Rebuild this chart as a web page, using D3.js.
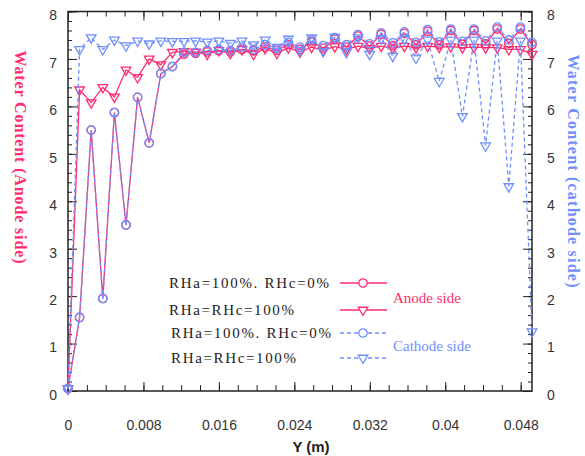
<!DOCTYPE html>
<html lang="en">
<head>
<meta charset="utf-8">
<title>Water content</title>
<script src="https://d3js.org/d3.v7.js"></script>
<style>
    body { margin: 0; background: #fff; }
    .tick text { font-family: "Liberation Sans", Arial, sans-serif; font-size: 14px; fill: #333; }
    .axis path, .axis line { stroke: #222; }
</style>
</head>
<body>
<svg width="585" height="456"></svg>
<script type="text/javascript">
    // positions along the channel (m)
    let xs = [0, 0.00123, 0.00246, 0.00369, 0.00492, 0.00615, 0.00738, 0.00861, 0.00984, 0.01107,
        0.0123, 0.01353, 0.01476, 0.01599, 0.01722, 0.01845, 0.01968, 0.02091, 0.02214, 0.02337,
        0.0246, 0.02583, 0.02706, 0.02829, 0.02952, 0.03075, 0.03198, 0.03321, 0.03444, 0.03567,
        0.0369, 0.03813, 0.03936, 0.04059, 0.04182, 0.04305, 0.04428, 0.04551, 0.04674, 0.04797, 0.0492];

    // anode side, RHa=100%, RHc=0%
    let anodeDry = [0.05, 1.55, 5.5, 1.95, 5.87, 3.5, 6.19, 5.23, 6.69, 6.84,
        7.1, 7.12, 7.15, 7.17, 7.15, 7.2, 7.17, 7.25, 7.18, 7.3,
        7.2, 7.36, 7.23, 7.42, 7.25, 7.48, 7.27, 7.52, 7.28, 7.54,
        7.3, 7.58, 7.3, 7.6, 7.31, 7.6, 7.32, 7.63, 7.33, 7.63, 7.3];
    // anode side, RHa=RHc=100%
    let anodeWet = [0.05, 6.35, 6.08, 6.4, 6.2, 6.77, 6.61, 7.0, 6.88, 7.14,
        7.16, 7.15, 7.1, 7.18, 7.12, 7.2, 7.1, 7.22, 7.12, 7.24,
        7.15, 7.25, 7.18, 7.26, 7.2, 7.27, 7.22, 7.27, 7.23, 7.27,
        7.24, 7.27, 7.25, 7.26, 7.24, 7.25, 7.24, 7.24, 7.2, 7.2, 7.1];
    // cathode side, RHa=100%, RHc=0%
    let cathodeDry = [0.05, 1.55, 5.5, 1.95, 5.87, 3.5, 6.19, 5.23, 6.69, 6.84,
        7.14, 7.14, 7.18, 7.2, 7.18, 7.25, 7.2, 7.3, 7.22, 7.35,
        7.25, 7.4, 7.28, 7.45, 7.3, 7.51, 7.32, 7.55, 7.34, 7.57,
        7.35, 7.62, 7.36, 7.63, 7.37, 7.63, 7.38, 7.67, 7.4, 7.67, 7.35];
    // cathode side, RHa=RHc=100%
    let cathodeWet = [0.05, 7.2, 7.45, 7.2, 7.4, 7.28, 7.38, 7.32, 7.38, 7.37,
        7.37, 7.38, 7.36, 7.38, 7.33, 7.38, 7.3, 7.4, 7.25, 7.42,
        7.18, 7.45, 7.16, 7.46, 7.14, 7.45, 7.1, 7.43, 7.06, 7.42,
        7.02, 7.4, 6.53, 7.4, 5.79, 7.4, 5.17, 7.38, 4.31, 7.38, 1.25];

    let xTickValues = [0, 0.008, 0.016, 0.024, 0.032, 0.04, 0.048];
    let xTickLabels = ["0", "0.008", "0.016", "0.024", "0.032", "0.04", "0.048"];
    let yTickValues = [0, 1, 2, 3, 4, 5, 6, 7, 8];
    let legendLabels = ["RHa=100%. RHc=0%", "RHa=RHc=100%", "RHa=100%. RHc=0%", "RHa=RHc=100%"];

    let pink = "#ff2d6e";
    let blue = "#6f8fff";

    let svg = d3.select("svg");
    let x = d3.scaleLinear().domain([0, 0.0492]).range([68, 532]);
    let y = d3.scaleLinear().domain([0, 8]).range([391, 11.5]);

    // frame
    svg.append("rect")
        .attr("x", 68).attr("y", 11.5)
        .attr("width", 464).attr("height", 379.5)
        .attr("fill", "none").attr("stroke", "#222").attr("stroke-width", 1.5);

    let xMinor = d3.range(0, 0.0491, 0.002);
    let yMinor = d3.range(0, 8.01, 0.2);

    // bottom ticks (inward) and labels
    let bottomAxis = svg.append("g").attr("class", "axis").attr("transform", "translate(0,391)");
    bottomAxis.call(d3.axisBottom(x).tickValues(xMinor).tickSize(-6).tickFormat(""));
    bottomAxis.append("g").call(d3.axisBottom(x).tickValues(xTickValues).tickSize(-9).tickPadding(31)
        .tickFormat((d, i) => xTickLabels[i]));
    let topAxis = svg.append("g").attr("class", "axis").attr("transform", "translate(0,11.5)");
    topAxis.call(d3.axisTop(x).tickValues(xMinor).tickSize(-5).tickFormat(""));
    topAxis.append("g").call(d3.axisTop(x).tickValues(xTickValues).tickSize(-9).tickFormat(""));

    let leftAxis = svg.append("g").attr("class", "axis").attr("transform", "translate(68,0)");
    leftAxis.call(d3.axisLeft(y).tickValues(yMinor).tickSize(-4).tickFormat(""));
    leftAxis.append("g").call(d3.axisLeft(y).tickValues(yTickValues).tickSize(-9).tickPadding(11)
        .tickFormat(d3.format("d")));
    let rightAxis = svg.append("g").attr("class", "axis").attr("transform", "translate(532,0)");
    rightAxis.call(d3.axisRight(y).tickValues(yMinor).tickSize(-4).tickFormat(""));
    rightAxis.append("g").call(d3.axisRight(y).tickValues(yTickValues).tickSize(-9).tickPadding(15)
        .tickFormat(d3.format("d")));
    svg.selectAll(".axis .domain").remove();
    bottomAxis.selectAll(".tick text").attr("dy", "0.55em");
    leftAxis.selectAll(".tick text").attr("dy", "0.6em");
    rightAxis.selectAll(".tick text").attr("dy", "0.6em");

    // titles
    svg.append("text")
        .attr("transform", "translate(15,157) rotate(90)")
        .attr("text-anchor", "middle")
        .attr("textLength", 213)
        .style("font-family", "'Liberation Serif', 'Times New Roman', serif")
        .style("font-weight", "bold").style("font-size", "16px")
        .attr("fill", pink)
        .text("Water Content (Anode side)");
    svg.append("text")
        .attr("transform", "translate(568,171) rotate(90)")
        .attr("text-anchor", "middle")
        .attr("textLength", 233)
        .style("font-family", "'Liberation Serif', 'Times New Roman', serif")
        .style("font-weight", "bold").style("font-size", "16px")
        .attr("fill", blue)
        .text("Water Content (cathode side)");
    svg.append("text")
        .attr("x", 311).attr("y", 452)
        .attr("text-anchor", "middle")
        .style("font-family", "'Liberation Sans', Arial, sans-serif")
        .style("font-weight", "bold").style("font-size", "15px")
        .attr("fill", "#222")
        .text("Y (m)");

    let circle = d3.symbol().type(d3.symbolCircle).size(56);
    let tri = d3.symbol().type(d3.symbolTriangle).size(40);

    let series = [
        {values: anodeDry, color: pink, dash: null, shape: circle, rot: 0},
        {values: anodeWet, color: pink, dash: null, shape: tri, rot: 180},
        {values: cathodeDry, color: blue, dash: "4,3", shape: circle, rot: 0},
        {values: cathodeWet, color: blue, dash: "4,3", shape: tri, rot: 180}
    ];

    let line = d3.line().x(d => x(d[0])).y(d => y(d[1]));
    let plot = svg.append("g");

    series.forEach(function (s) {
        let pts = xs.map((v, i) => [v, s.values[i]]);
        plot.append("path")
            .datum(pts)
            .attr("d", line)
            .attr("fill", "none")
            .attr("stroke", s.color)
            .attr("stroke-width", 1.3)
            .attr("stroke-dasharray", s.dash);
        plot.append("g").selectAll("path")
            .data(pts)
            .join("path")
            .attr("transform", d => "translate(" + x(d[0]) + "," + y(d[1]) + ") rotate(" + s.rot + ")")
            .attr("d", s.shape)
            .attr("fill", "none")
            .attr("stroke", s.color)
            .attr("stroke-width", 1.3);
    });

    // legend
    let legY = [283, 310, 333, 358];
    let legX = [169, 169, 171, 171];
    let legend = svg.append("g");
    legendLabels.forEach(function (t, i) {
        legend.append("text")
            .attr("x", legX[i]).attr("y", legY[i] + 5)
            .attr("textLength", i % 2 === 0 ? 160 : 125)
            .style("font-family", "'Liberation Serif', 'Times New Roman', serif")
            .style("font-size", "15px")
            .attr("fill", "#222")
            .text(t);
        let s = series[i];
        legend.append("line")
            .attr("x1", 340).attr("x2", 387)
            .attr("y1", legY[i]).attr("y2", legY[i])
            .attr("stroke", s.color).attr("stroke-width", 1.3)
            .attr("stroke-dasharray", s.dash);
        legend.append("path")
            .attr("transform", "translate(363," + legY[i] + ") rotate(" + s.rot + ")")
            .attr("d", s.shape)
            .attr("fill", "white")
            .attr("stroke", s.color).attr("stroke-width", 1.3);
    });
    legend.append("text")
        .attr("x", 393).attr("y", 303)
        .style("font-family", "'Liberation Serif', 'Times New Roman', serif")
        .style("font-size", "15px")
        .attr("fill", pink)
        .text("Anode side");
    legend.append("text")
        .attr("x", 393).attr("y", 351)
        .style("font-family", "'Liberation Serif', 'Times New Roman', serif")
        .style("font-size", "15px")
        .attr("fill", blue)
        .text("Cathode side");
</script>
</body>
</html>
